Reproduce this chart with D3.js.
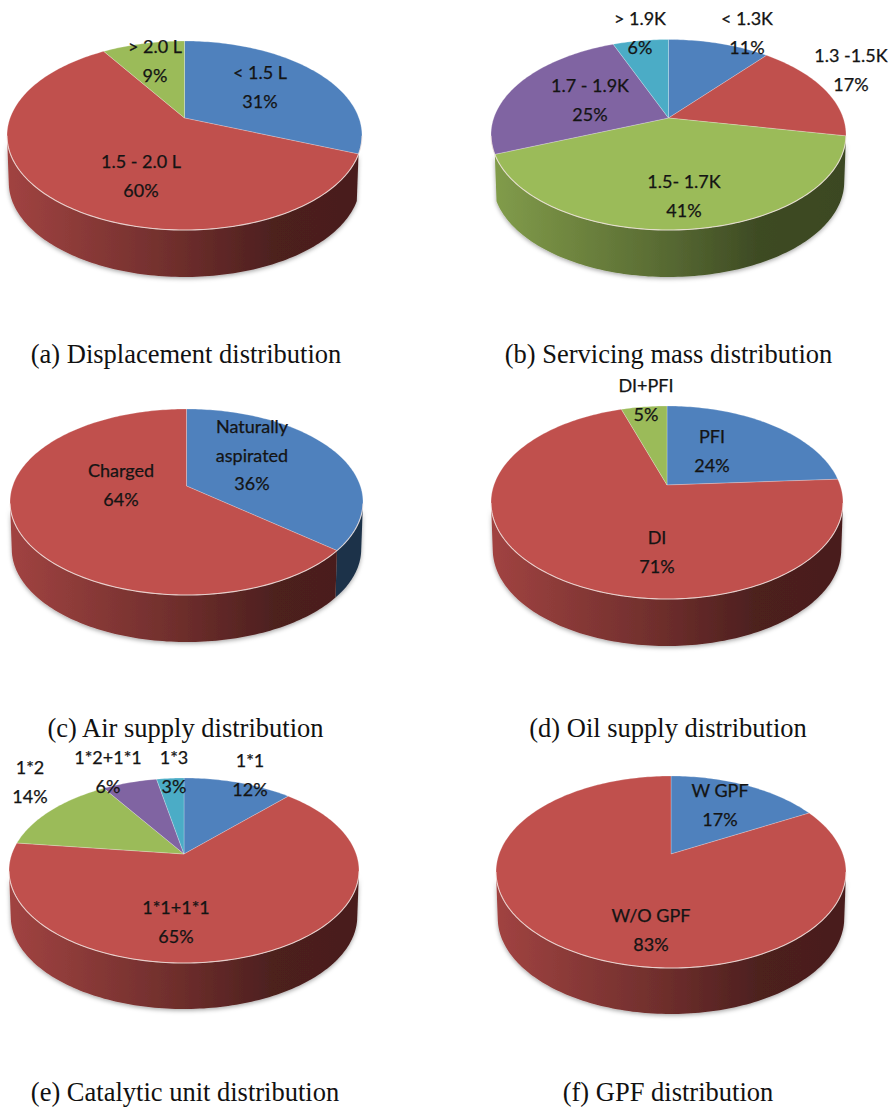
<!DOCTYPE html>
<html>
<head>
<meta charset="utf-8">
<title>Vehicle technology distributions</title>
<script src="https://cdn.jsdelivr.net/npm/d3@7"></script>
<style>
  html, body { margin: 0; padding: 0; background: #fff; }
  svg { display: block; }
  .slice-label { font-family: Lato, "Open Sans", sans-serif; font-size: 18px; fill: #141414; stroke: #141414; stroke-width: 0.25px; text-anchor: middle; }
  .caption { font-family: "Liberation Serif", "Times New Roman", serif; font-size: 26.5px; fill: #111; text-anchor: middle; }
</style>
</head>
<body>
<svg id="chart" width="894" height="1108"></svg>
<script>
// Slice categories and shares (percent), one pair of arrays per chart.
const displacementCategories = [["< 1.5 L"], ["1.5 - 2.0 L"], ["> 2.0 L"]];
const displacementValues = [31, 60, 9];

const massCategories = [["< 1.3K"], ["1.3 -1.5K"], ["1.5- 1.7K"], ["1.7 - 1.9K"], ["> 1.9K"]];
const massValues = [11, 17, 41, 25, 6];

const airCategories = [["Naturally", "aspirated"], ["Charged"]];
const airValues = [36, 64];

const oilCategories = [["PFI"], ["DI"], ["DI+PFI"]];
const oilValues = [24, 71, 5];

const catalystCategories = [["1*1"], ["1*1+1*1"], ["1*2"], ["1*2+1*1"], ["1*3"]];
const catalystValues = [12, 65, 14, 6, 3];

const gpfCategories = [["W GPF"], ["W/O GPF"]];
const gpfValues = [17, 83];

const captions = [
  "(a) Displacement distribution",
  "(b) Servicing mass distribution",
  "(c) Air supply distribution",
  "(d) Oil supply distribution",
  "(e) Catalytic unit distribution",
  "(f) GPF distribution"
];

// Office-style slice palette, assigned in slice order.
const sliceColors = ["#4f81bd", "#c0504d", "#9bbb59", "#8064a2", "#4bacc6"];
// Brightness of the side wall from its left edge to its right edge.
const wallShades = [[0, 0.84], [0.25, 0.7], [0.5, 0.56], [0.75, 0.4], [1, 0.38]];

// Page layout: pie centre, far/near edge of the top face, half width, wall
// depth, caption anchor and the anchor of each slice label.
const layouts = [
  { cx: 184.5, cy: 118, top: 41, bottom: 230, rx: 177.5, depth: 47, capX: 186, capY: 363,
    labels: [[260, 79], [141, 168], [155, 53]] },
  { cx: 668.5, cy: 118, top: 39.5, bottom: 230, rx: 177.5, depth: 47, capX: 668.5, capY: 363,
    labels: [[747, 25], [851, 62], [684, 188], [590, 92], [640, 25]] },
  { cx: 186.5, cy: 486, top: 409, bottom: 595, rx: 176.5, depth: 47, capX: 185.5, capY: 737,
    labels: [[252, 433], [121, 477]] },
  { cx: 667, cy: 485, top: 406, bottom: 599, rx: 176, depth: 47, capX: 668, capY: 737,
    labels: [[712, 443], [657, 544], [646, 392]] },
  { cx: 184, cy: 854, top: 778, bottom: 963, rx: 175, depth: 46, capX: 185, capY: 1101,
    labels: [[250, 767], [176, 914], [30, 774], [108, 764], [174, 764]] },
  { cx: 671, cy: 854, top: 776, bottom: 968, rx: 175, depth: 46, capX: 668, capY: 1101,
    labels: [[720, 797], [651, 922]] }
];

const charts = [
  [displacementCategories, displacementValues],
  [massCategories, massValues],
  [airCategories, airValues],
  [oilCategories, oilValues],
  [catalystCategories, catalystValues],
  [gpfCategories, gpfValues]
];

const LINE_GAP = 28.7;
const BOTTOM_TAPER = 0.99;
const MIN_WALL_RUN = 8;
const svg = d3.select("#chart");
const defs = svg.append("defs");

const shadow = defs.append("filter").attr("id", "wall-shadow")
  .attr("x", "-5%").attr("y", "-5%").attr("width", "110%").attr("height", "115%");
shadow.append("feDropShadow").attr("dx", 0).attr("dy", 1.5)
  .attr("stdDeviation", 2.2).attr("flood-color", "#000").attr("flood-opacity", 0.35);

const pieLayout = d3.pie().sort(null).startAngle(0).endAngle(2 * Math.PI);
const linePath = d3.line();

// Perspective projection of the pie disc: the near edge is drawn larger
// than the far edge, so the centre sits above the middle of the ellipse.
function projector(l) {
  const near = l.bottom - l.cy, far = l.cy - l.top;
  const k = (near - far) / (near + far);
  const b = near * (1 - k);
  const c = l.rx * Math.sqrt(1 - k * k);
  const project = angle => {
    const u = Math.sin(angle), v = -Math.cos(angle);
    const s = 1 / (1 - k * v);
    return [l.cx + c * u * s, l.cy + b * v * s];
  };
  project.silhouette = k;
  return project;
}

function samples(a0, a1) {
  const n = Math.max(2, Math.ceil((a1 - a0) / 0.02));
  const t = d3.scaleLinear().domain([0, n]).range([a0, a1]);
  return d3.range(n + 1).map(t);
}

charts.forEach(([categories, values], i) => {
  const l = layouts[i];
  const project = projector(l);
  const arcs = pieLayout(values);
  const g = svg.append("g");

  // One horizontal gradient per slice colour, spanning the full pie width.
  sliceColors.forEach((color, ci) => {
    const base = d3.rgb(color);
    const grad = defs.append("linearGradient")
      .attr("id", `wall-${i}-${ci}`).attr("gradientUnits", "userSpaceOnUse")
      .attr("x1", l.cx - l.rx).attr("x2", l.cx + l.rx).attr("y1", 0).attr("y2", 0);
    wallShades.forEach(([offset, shade]) => {
      grad.append("stop").attr("offset", offset)
        .attr("stop-color", d3.rgb(base.r * shade, base.g * shade, base.b * shade).formatHex());
    });
  });

  // Side walls: only the arc in front of the silhouette points is drawn, and
  // slivers too narrow to read are dropped.
  const walls = g.append("g").attr("filter", "url(#wall-shadow)");
  arcs.forEach((d, idx) => {
    const rim = samples(d.startAngle, d.endAngle)
      .filter(a => -Math.cos(a) >= project.silhouette)
      .map(project);
    if (rim.length < 2) return;
    const [x0, x1] = d3.extent(rim, p => p[0]);
    if (x1 - x0 < MIN_WALL_RUN) return;
    const lower = rim.slice().reverse()
      .map(([x, y]) => [l.cx + (x - l.cx) * BOTTOM_TAPER, y + l.depth]);
    walls.append("path")
      .attr("d", linePath(rim.concat(lower)) + "Z")
      .attr("fill", `url(#wall-${i}-${idx})`);
  });

  // Top faces.
  g.selectAll("path.top").data(arcs).join("path")
    .attr("class", "top")
    .attr("d", d => linePath([[l.cx, l.cy]].concat(samples(d.startAngle, d.endAngle).map(project))) + "Z")
    .attr("fill", (d, idx) => sliceColors[idx])
    .attr("stroke", "#ffffff").attr("stroke-opacity", 0.3).attr("stroke-width", 0.8);

  // Pale highlight along the near rim of the disc.
  g.append("path")
    .attr("d", linePath(samples(Math.PI * 0.56, Math.PI * 1.44).map(project)))
    .attr("fill", "none").attr("stroke", "#f3e4e0").attr("stroke-opacity", 0.75).attr("stroke-width", 1.1);

  // Slice labels: the category lines followed by the percentage.
  arcs.forEach((d, idx) => {
    const [x, y] = l.labels[idx];
    const lines = categories[idx].concat(`${values[idx]}%`);
    lines.forEach((line, li) => {
      g.append("text").attr("class", "slice-label")
        .attr("x", x).attr("y", y + li * LINE_GAP).text(line);
    });
  });

  svg.append("text").attr("class", "caption")
    .attr("x", l.capX).attr("y", l.capY).text(captions[i]);
});
</script>
</body>
</html>
